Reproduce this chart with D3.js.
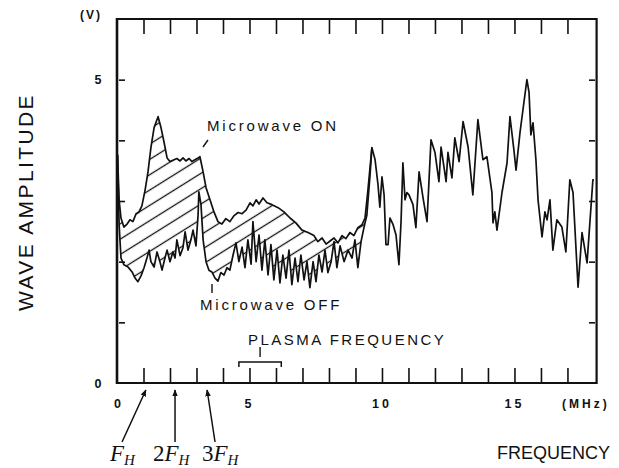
<!DOCTYPE html>
<html><head><meta charset="utf-8">
<script src="https://cdn.jsdelivr.net/npm/d3@7"></script>
<style>body{margin:0;background:#fff} svg{display:block}</style>
</head><body>
<svg id="c" width="619" height="468"></svg>
<script>
// Microwave ON (upper) curve, 0 – 9.6 MHz
const onFreq = [0.02,0.08,0.15,0.26,0.38,0.49,0.60,0.72,0.83,0.94,1.06,1.17,1.28,1.40,1.55,1.66,1.77,1.89,2.00,2.15,2.26,2.38,2.49,2.60,2.72,2.83,2.94,3.06,3.13,3.25,3.36,3.51,3.66,3.81,3.96,4.11,4.26,4.42,4.57,4.72,4.87,5.02,5.13,5.25,5.36,5.51,5.66,5.85,6.08,6.30,6.53,6.75,6.98,7.21,7.43,7.58,7.74,7.89,8.04,8.19,8.34,8.49,8.64,8.79,8.94,9.09,9.25,9.36,9.47,9.62];
const onAmp  = [3.76,3.02,2.72,2.57,2.62,2.69,2.66,2.79,2.82,2.92,3.18,3.48,3.88,4.21,4.39,4.21,3.98,3.71,3.65,3.68,3.70,3.66,3.71,3.66,3.70,3.65,3.68,3.71,3.73,3.48,3.22,3.02,2.82,2.66,2.62,2.71,2.66,2.76,2.81,2.79,2.85,2.97,2.92,3.02,2.95,3.05,2.97,2.94,2.89,2.82,2.72,2.64,2.52,2.48,2.43,2.33,2.39,2.29,2.34,2.39,2.31,2.43,2.38,2.48,2.43,2.56,2.61,2.72,3.18,3.88];
// Microwave OFF (lower) curve, 0 – 9.6 MHz
const offFreq = [0.02,0.08,0.15,0.26,0.42,0.57,0.68,0.79,0.91,1.02,1.13,1.21,1.28,1.40,1.51,1.62,1.70,1.81,1.89,2.00,2.11,2.19,2.26,2.38,2.49,2.57,2.68,2.79,2.87,2.98,3.06,3.09,3.17,3.25,3.36,3.47,3.58,3.70,3.81,3.92,4.04,4.15,4.26,4.38,4.49,4.60,4.72,4.83,4.94,5.06,5.13,5.25,5.36,5.47,5.58,5.70,5.81,5.92,6.04,6.15,6.26,6.38,6.49,6.60,6.72,6.83,6.94,7.06,7.17,7.28,7.40,7.51,7.62,7.74,7.85,7.96,8.08,8.19,8.30,8.42,8.57,8.72,8.87,8.98,9.09,9.21,9.32,9.43,9.55,9.62];
const offAmp  = [3.76,2.61,2.06,1.95,1.91,1.83,1.73,1.67,1.77,1.90,2.06,2.19,2.00,1.91,2.16,2.00,1.86,2.06,2.19,2.00,2.16,2.06,2.36,2.10,2.23,2.49,2.19,2.36,2.52,2.26,2.77,3.15,2.94,2.36,2.00,1.86,1.83,1.73,1.68,1.82,1.78,1.90,1.86,2.11,2.31,2.00,2.24,1.90,2.36,1.96,2.66,2.00,2.44,1.86,2.36,1.78,2.28,1.70,2.19,1.65,2.11,1.73,2.19,1.62,2.06,1.67,2.11,1.70,2.00,1.57,2.00,1.67,2.11,1.83,2.19,1.82,2.00,2.33,1.90,2.26,2.00,2.19,2.06,2.36,1.90,2.33,2.56,2.77,3.43,3.88];
// Common curve above 9.6 MHz (ON and OFF coincide)
const sharedFreq = [9.74,9.85,9.92,10.00,10.08,10.15,10.23,10.30,10.42,10.53,10.64,10.72,10.79,10.87,10.94,11.02,11.17,11.28,11.40,11.55,11.70,11.85,12.00,12.15,12.23,12.42,12.49,12.64,12.75,12.91,13.06,13.25,13.43,13.62,13.81,13.96,14.15,14.19,14.26,14.34,14.53,14.72,14.83,14.98,15.06,15.21,15.32,15.47,15.55,15.62,15.70,15.81,15.89,16.04,16.15,16.23,16.34,16.45,16.60,16.79,16.94,17.09,17.21,17.40,17.55,17.74,17.96,18.00];
const sharedAmp  = [3.68,3.27,2.90,3.40,3.10,2.28,2.28,2.72,2.61,2.44,1.95,2.66,3.63,3.02,3.14,3.10,2.94,2.56,3.48,3.05,2.66,4.01,3.80,3.32,3.89,3.32,3.80,3.38,4.04,3.65,4.31,3.89,3.10,4.34,3.68,3.73,3.14,2.64,2.82,2.52,3.14,3.63,4.39,3.84,3.51,4.13,4.50,5.00,4.79,4.09,4.29,3.68,3.02,2.41,2.82,2.69,3.02,2.19,2.69,2.57,2.16,3.35,3.14,1.58,2.48,1.98,3.35,3.35];

const xMinorTicks = [1,2,3,4,5,6,7,8,9,10,11,12,13,14,15,16,17];
const yMinorTicks = [1,2,3,4,5];
const xTickLabels = [0,5,10,15];
const yTickLabels = [0,5];
const harmonicTop = [1.09,2.19,3.40];
const harmonicBase = [0.19,2.19,3.70];
const harmonicNum = ["","2","3"];
const plasmaBand = [4.6,6.2];

const svg = d3.select("#c");
const x = d3.scaleLinear().domain([0,18.1]).range([117,596.6]);
const y = d3.scaleLinear().domain([0,6]).range([383,19]);
const FONT = "'Liberation Sans', Arial, sans-serif";

const onPts = onFreq.map((f,i)=>[f,onAmp[i]]);
const offPts = offFreq.map((f,i)=>[f,offAmp[i]]);
const sharedPts = sharedFreq.map((f,i)=>[f,sharedAmp[i]]);

// hatch pattern
const defs = svg.append("defs");
const pat = defs.append("pattern").attr("id","hatch")
  .attr("patternUnits","userSpaceOnUse").attr("width",13).attr("height",13)
  .attr("patternTransform","rotate(-32)");
pat.append("line").attr("x1",-1).attr("x2",14).attr("y1",6.5).attr("y2",6.5)
  .attr("stroke","#111").attr("stroke-width",1.3);

const line = d3.line().x(d=>x(d[0])).y(d=>y(d[1]));
// hatched region between curves
const poly = onPts.concat(offPts.slice().reverse());
svg.append("path").attr("d", line(poly)+"Z").attr("fill","url(#hatch)").attr("stroke","none");

// curves
svg.append("path").attr("d", line(onPts.concat(sharedPts)))
  .attr("fill","none").attr("stroke","#111").attr("stroke-width",1.7).attr("stroke-linejoin","round");
svg.append("path").attr("d", line(offPts))
  .attr("fill","none").attr("stroke","#111").attr("stroke-width",1.7).attr("stroke-linejoin","round");

// axes ticks via d3 axes
const gb = svg.append("g").attr("transform","translate(0,383)")
  .call(d3.axisBottom(x).tickValues(xMinorTicks).tickSizeInner(-15).tickSizeOuter(0).tickFormat(""));
const gt = svg.append("g").attr("transform","translate(0,19)")
  .call(d3.axisTop(x).tickValues(xMinorTicks).tickSizeInner(-15).tickSizeOuter(0).tickFormat(""));
const gl = svg.append("g").attr("transform","translate(119,0)")
  .call(d3.axisLeft(y).tickValues(yMinorTicks).tickSizeInner(-6).tickSizeOuter(0).tickFormat(""));
const gr = svg.append("g").attr("transform","translate(595,0)")
  .call(d3.axisRight(y).tickValues(yMinorTicks).tickSizeInner(-6).tickSizeOuter(0).tickFormat(""));
[gb,gt,gl,gr].forEach(g=>{
  g.select(".domain").remove();
  g.selectAll(".tick line").attr("stroke","#111").attr("stroke-width",1.6);
});

// frame
svg.append("line").attr("x1",x(0)).attr("x2",x(0)).attr("y1",y(6)-1).attr("y2",y(0)+1)
  .attr("stroke","#111").attr("stroke-width",2.6);
svg.append("line").attr("x1",x(0)).attr("x2",x(18.1)).attr("y1",y(6)).attr("y2",y(6))
  .attr("stroke","#111").attr("stroke-width",2);
svg.append("line").attr("x1",x(0)).attr("x2",x(18.1)).attr("y1",y(0)).attr("y2",y(0))
  .attr("stroke","#111").attr("stroke-width",2);
svg.append("line").attr("x1",x(18.1)).attr("x2",x(18.1)).attr("y1",y(6)-1).attr("y2",y(0)+1)
  .attr("stroke","#111").attr("stroke-width",2.2);

// tick labels
svg.selectAll(".xl").data(xTickLabels).enter().append("text")
  .attr("x",d=>x(d)+(d===0?2:0)).attr("y",408).attr("text-anchor","middle")
  .attr("font-family",FONT).attr("font-weight","bold").attr("font-size",12.5)
  .attr("letter-spacing",3).attr("fill","#111").text(d=>d);
svg.append("text").attr("x",562).attr("y",408).attr("font-family",FONT).attr("font-weight","bold")
  .attr("font-size",12).attr("letter-spacing",3).attr("fill","#111").text("(MHz)");
svg.selectAll(".yl").data(yTickLabels).enter().append("text")
  .attr("x",98).attr("y",d=>y(d)+4.5).attr("text-anchor","middle")
  .attr("font-family",FONT).attr("font-weight","bold").attr("font-size",12.5).attr("fill","#111").text(d=>d);
svg.append("text").attr("x",91).attr("y",19).attr("text-anchor","middle").attr("font-family",FONT)
  .attr("font-weight","bold").attr("font-size",12).attr("letter-spacing",2).attr("fill","#111").text("(V)");

// axis titles
svg.append("text").attr("transform","translate(33,202) rotate(-90)").attr("text-anchor","middle")
  .attr("font-family",FONT).attr("font-size",21).attr("letter-spacing",2.4).attr("fill","#111").text("WAVE AMPLITUDE");
svg.append("text").attr("x",497).attr("y",459).attr("font-family",FONT).attr("font-size",18)
  .attr("fill","#111").text("FREQUENCY");

// curve annotations
svg.append("text").attr("x",207).attr("y",131).attr("font-family",FONT).attr("font-size",15)
  .attr("letter-spacing",2.8).attr("fill","#111").text("Microwave ON");
svg.append("line").attr("x1",203).attr("y1",147).attr("x2",208).attr("y2",140).attr("stroke","#111").attr("stroke-width",1.4);
svg.append("text").attr("x",200).attr("y",310).attr("font-family",FONT).attr("font-size",15)
  .attr("letter-spacing",2.8).attr("fill","#111").text("Microwave OFF");
svg.append("line").attr("x1",212).attr("y1",284).attr("x2",212).attr("y2",293).attr("stroke","#111").attr("stroke-width",1.4);

// plasma frequency bracket
svg.append("text").attr("x",248).attr("y",345).attr("font-family",FONT).attr("font-size",15)
  .attr("letter-spacing",2.5).attr("fill","#111").text("PLASMA FREQUENCY");
const pm = (plasmaBand[0]+plasmaBand[1])/2;
svg.append("path").attr("d",`M${x(plasmaBand[0])},367V362H${x(plasmaBand[1])}V367`)
  .attr("fill","none").attr("stroke","#111").attr("stroke-width",1.5);
svg.append("line").attr("x1",x(pm)).attr("x2",x(pm)).attr("y1",347).attr("y2",357).attr("stroke","#111").attr("stroke-width",1.4);

// harmonic arrows
defs.append("marker").attr("id","arr").attr("viewBox","0 0 10 10").attr("refX",9).attr("refY",5)
  .attr("markerWidth",7).attr("markerHeight",7).attr("markerUnits","userSpaceOnUse").attr("orient","auto")
  .append("path").attr("d","M0,1L10,5L0,9Z").attr("fill","#111");
harmonicTop.forEach((f,i)=>{
  svg.append("line").attr("x1",x(harmonicBase[i])).attr("y1",442).attr("x2",x(f)).attr("y2",390)
    .attr("stroke","#111").attr("stroke-width",1.5).attr("marker-end","url(#arr)");
});
const labelX = [110,153,202];
harmonicNum.forEach((n,i)=>{
  const t = svg.append("text").attr("x",labelX[i]).attr("y",461)
    .attr("font-family","'Liberation Serif','DejaVu Serif',serif").attr("font-size",23).attr("fill","#111");
  if(n) t.append("tspan").text(n);
  t.append("tspan").attr("font-style","italic").text("F");
  t.append("tspan").attr("font-style","italic").attr("font-size",15).attr("dy",4).text("H");
});
</script>
</body></html>
